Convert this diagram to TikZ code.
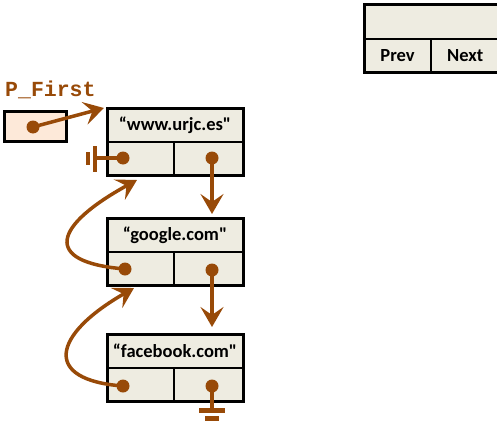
\documentclass[tikz,border=0pt]{standalone}
\usepackage{fontspec}
\setmainfont{Carlito}[Ligatures=TeXOff]
\newfontfamily\pfmono{Liberation Mono}[Ligatures=TeXOff]
\usetikzlibrary{arrows.meta}
\definecolor{brn}{RGB}{152,74,8}
\definecolor{cellbg}{RGB}{238,236,225}
\definecolor{peach}{RGB}{253,233,217}
\begin{document}
\begin{tikzpicture}[x=1pt,y=-1pt,
  cell/.style={draw=black,line width=2pt,fill=cellbg,inner sep=0pt,outer sep=0pt,
    font=\bfseries\fontsize{18.5}{20}\selectfont,anchor=north west},
  frame/.style={draw=black,line width=3pt},
  dot/.style={circle,fill=brn,inner sep=0pt,minimum size=13pt},
  ptr/.style={draw=brn,line width=3.5pt},
  arr/.style={ptr,-{Stealth[length=20pt,width=23pt,inset=8pt]}},
  gbar/.style={fill=brn}]
\useasboundingbox (0,0) rectangle (497,420);

% legend
\node[cell,minimum width=135.5pt,minimum height=34pt] (lt) at (364,5) {};
\node[cell,minimum width=67pt,minimum height=33pt] (lp) at (lt.south west) {Prev};
\node[cell,minimum width=68.5pt,minimum height=33pt] (lx) at (lp.north east) {Next};
\draw[frame] (lt.north west) rectangle (lx.south east);

% list nodes
\node[cell,minimum width=136pt,minimum height=34pt] (t1) at (107,108) {“www.urjc.es"};
\node[cell,minimum width=67pt,minimum height=33pt] (p1) at (t1.south west) {};
\node[cell,minimum width=69pt,minimum height=33pt] (x1) at (p1.north east) {};
\draw[frame] (t1.north west) rectangle (x1.south east);

\node[cell,minimum width=136pt,minimum height=34pt] (t2) at (107,218) {“google.com"};
\node[cell,minimum width=67pt,minimum height=33pt] (p2) at (t2.south west) {};
\node[cell,minimum width=69pt,minimum height=33pt] (x2) at (p2.north east) {};
\draw[frame] (t2.north west) rectangle (x2.south east);

\node[cell,minimum width=136pt,minimum height=34pt] (t3) at (107,334) {“facebook.com"};
\node[cell,minimum width=67pt,minimum height=33pt] (p3) at (t3.south west) {};
\node[cell,minimum width=69pt,minimum height=33pt] (x3) at (p3.north east) {};
\draw[frame] (t3.north west) rectangle (x3.south east);

% P_First
\node[draw=black,line width=3pt,fill=peach,minimum width=62pt,minimum height=30pt,
  inner sep=0pt,outer sep=0pt,anchor=north west] (pf) at (4,111) {};
\node[anchor=base west,text=brn,font=\pfmono\bfseries\fontsize{21.5}{23}\selectfont,
  inner sep=0pt] (pfl) at (5,96) {P\_First};

% dots
\node[dot] (dpf) at (33,127) {};
\node[dot] (d1p) at (123,158) {};
\node[dot] (d1x) at (212,158) {};
\node[dot] (d2p) at (125,269) {};
\node[dot] (d2x) at (212,270) {};
\node[dot] (d3p) at (123,386) {};
\node[dot] (d3x) at (212,386) {};

% targets
\coordinate (a0) at (104,108);
\coordinate (a1) at (212,214);
\coordinate (a2) at (212,327);
\coordinate (c1) at (137,180);
\coordinate (c2) at (134,288);
\coordinate (g1) at (95,158);
\coordinate (g3) at (212,410);

% connectors
\draw[arr] (dpf.center) -- (a0);
\draw[arr] (d1x.center) -- (a1);
\draw[arr] (d2x.center) -- (a2);
\draw[arr] (d2p.center) .. controls (40,262) and (55,225) .. (c1);
\draw[arr] (d3p.center) .. controls (42,380) and (52,335) .. (c2);

% null terminators
\draw[ptr] (d1p.center) -- (g1);
\fill[gbar] (93,146) rectangle (97,172);
\fill[gbar] (86,152) rectangle (90,165);
\draw[ptr] (d3x.center) -- (g3);
\fill[gbar] (199,408) rectangle (225,412.5);
\fill[gbar] (205,416) rectangle (219,421);
\end{tikzpicture}
\end{document}
